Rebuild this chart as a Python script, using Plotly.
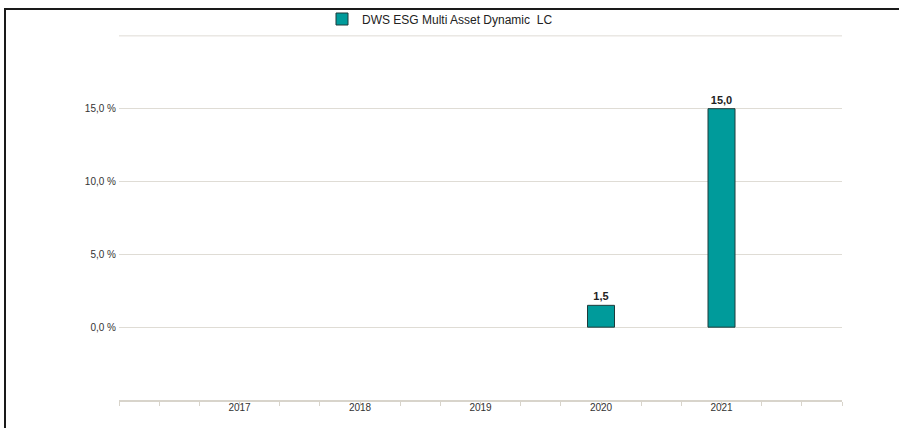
import plotly.graph_objects as go

years = [2017, 2018, 2019, 2020, 2021]
values = [None, None, None, 1.5, 15.0]
series_name = "DWS ESG Multi Asset Dynamic  LC"
y_tick_vals = [-5, 0, 5, 10, 15, 20]
y_tick_text = ["", "0,0 %", "5,0 %", "10,0 %", "15,0 %", ""]

bar_text = ["" if v is None else f"{v:.1f}".replace(".", ",") for v in values]

W, H = 899, 428
L, R, T, B = 119, 57, 35, 28
pw, ph = W - L - R, H - T - B
grid_color = "#dfdcd5"

def px_x(x):
    return (x - L) / pw

def px_y(y):
    return (H - B - y) / ph

fig = go.Figure()
fig.add_trace(go.Bar(
    x=years, y=values, name=series_name,
    width=0.224,
    marker=dict(color="#009b9b", line=dict(color="#1e3a3a", width=1)),
    text=bar_text, textposition="outside", cliponaxis=False,
    textfont=dict(family="Liberation Sans, Arial", size=11, color="#222222", weight="bold"),
    showlegend=True,
))

fig.update_layout(
    width=W, height=H,
    margin=dict(l=L, r=R, t=T, b=B, pad=0, autoexpand=False),
    paper_bgcolor="white", plot_bgcolor="white",
    font=dict(family="Liberation Sans, Arial", size=10, color="#333333"),
    separators=",.",
    showlegend=True,
    legend=dict(
        orientation="h", xref="container", yref="container",
        x=322 / W, xanchor="left", y=1 - 19 / H, yanchor="middle",
        font=dict(size=12, color="#222222"), bgcolor="rgba(0,0,0,0)",
        itemwidth=30,
    ),
    xaxis=dict(
        range=[2016, 2022], tickvals=years, ticktext=[str(y) for y in years],
        ticks="", showgrid=False, zeroline=False,
        showline=True, linecolor="#d8d4cb", linewidth=2,
        tickfont=dict(size=10, color="#333333"),
        ticklabelstandoff=-3,
        minor=dict(tick0=2016, dtick=1/3, ticks="outside", ticklen=4,
                   tickcolor="#d8d4cb", tickwidth=1, showgrid=False),
    ),
    yaxis=dict(
        range=[-5, 20.06], tickvals=y_tick_vals, ticktext=y_tick_text,
        showgrid=True, gridcolor=grid_color, gridwidth=1,
        zeroline=False, showline=False, ticks="",
        tickfont=dict(size=10, color="#333333"),
        ticklabelstandoff=2,
    ),
    shapes=[
        dict(
            type="rect", xref="paper", yref="paper",
            x0=px_x(5), x1=px_x(910), y0=px_y(440), y1=px_y(9),
            line=dict(color="#1a1a1a", width=2), fillcolor="rgba(0,0,0,0)", layer="below",
        ),
        dict(
            type="line", xref="paper", yref="y",
            x0=0, x1=1, y0=y_tick_vals[-1], y1=y_tick_vals[-1],
            line=dict(color=grid_color, width=1), layer="below",
        ),
    ],
)

fig.write_html(
    "out.html",
    config={"displayModeBar": False},
    post_script="document.body.style.margin='0';document.body.style.overflow='hidden';",
)
